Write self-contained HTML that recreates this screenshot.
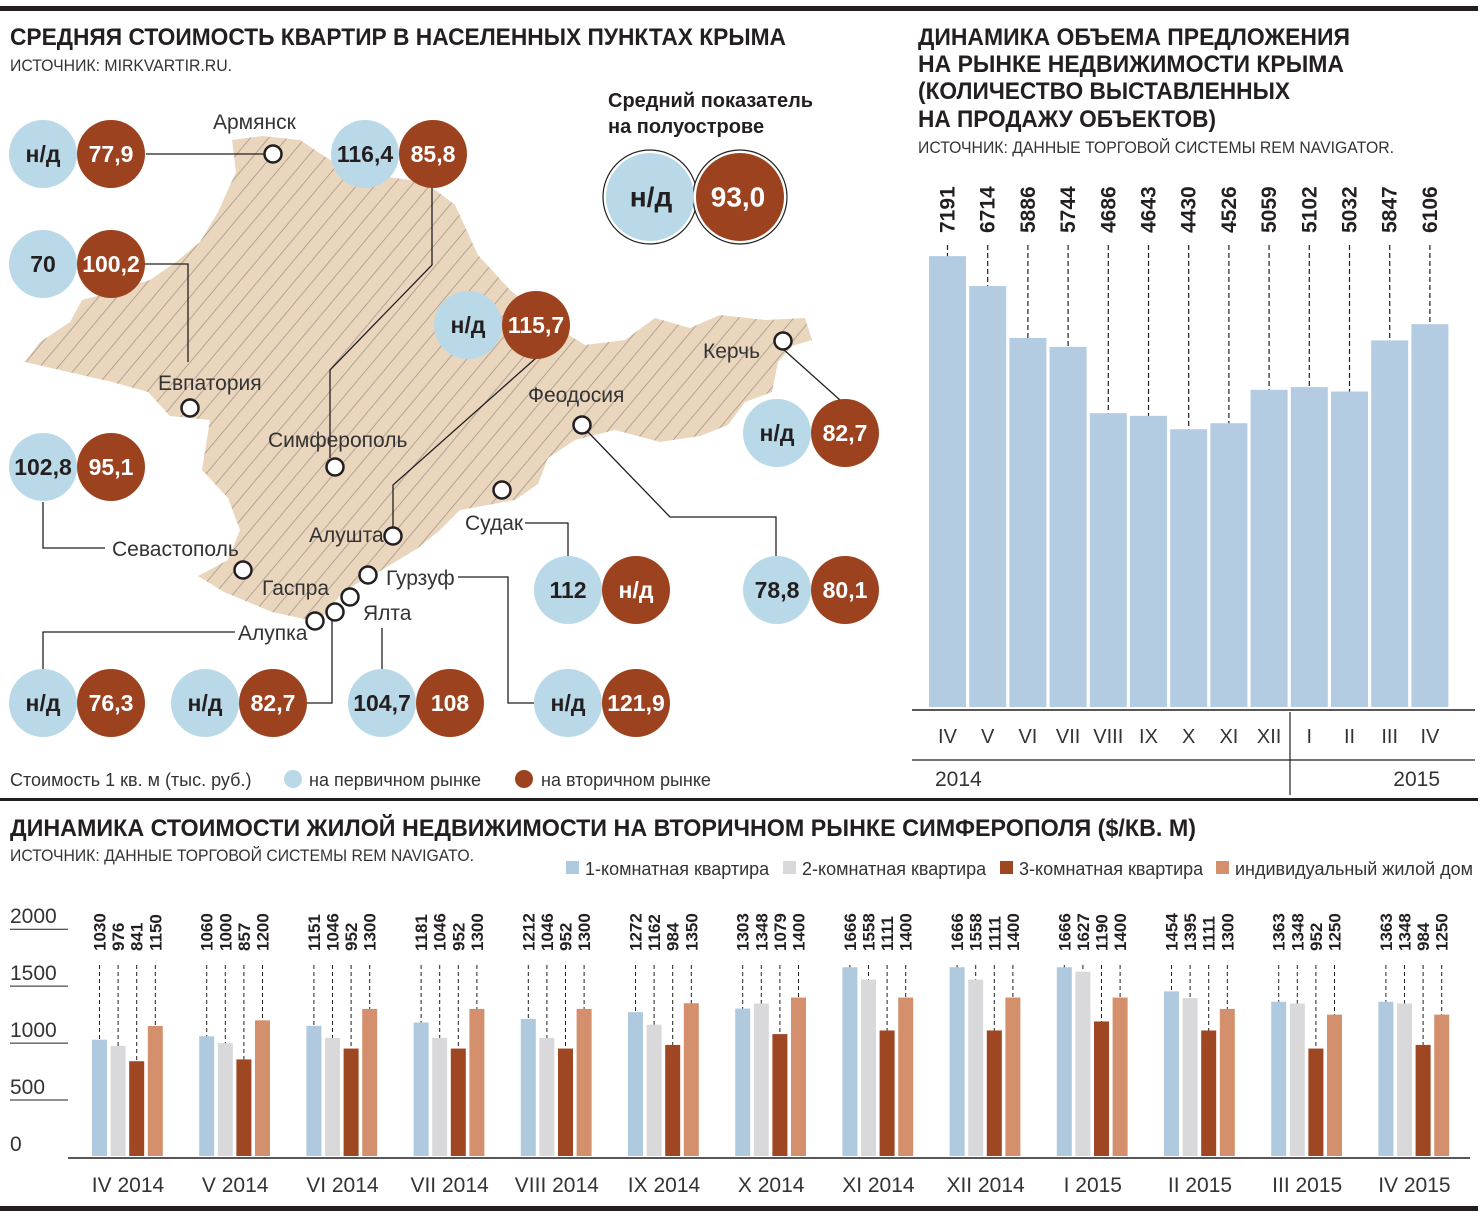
<!DOCTYPE html>
<html><head><meta charset="utf-8"><style>
html,body{margin:0;padding:0;background:#fff}
svg{display:block}
text{font-family:"Liberation Sans Narrow","Liberation Sans",sans-serif}
.t{font-weight:bold;font-size:24px;fill:#231f20}
.s{font-size:17px;fill:#333}
.lbl{font-size:21px;fill:#333}
.cb{font-weight:bold;font-size:23px;text-anchor:middle;dominant-baseline:central}
</style></head><body>
<svg id="root" width="1482" height="1214" viewBox="0 0 1482 1214">
<defs>
<pattern id="hatch" width="14" height="14" patternUnits="userSpaceOnUse" patternTransform="rotate(40)">
<rect width="14" height="14" fill="#ead6bd"/><line x1="0" y1="0" x2="0" y2="14" stroke="#a4978b" stroke-width="1.6"/>
</pattern>
</defs>
<rect x="0" y="6" width="1478" height="5" fill="#231f20"/>
<rect x="0" y="798" width="1478" height="3" fill="#231f20"/>
<rect x="0" y="1206" width="1478" height="5" fill="#231f20"/>

<!-- LEFT: map panel -->
<text x="10" y="45" class="t" textLength="776" lengthAdjust="spacingAndGlyphs">СРЕДНЯЯ СТОИМОСТЬ КВАРТИР В НАСЕЛЕННЫХ ПУНКТАХ КРЫМА</text>
<text x="10" y="71" class="s" textLength="222" lengthAdjust="spacingAndGlyphs">ИСТОЧНИК: MIRKVARTIR.RU.</text>

<polygon fill="url(#hatch)" points="232,140 262,136 300,140 330,160 380,176 425,182 455,205 478,255 510,290 548,322 585,345 625,340 655,318 690,328 720,315 765,320 805,318 812,340 792,346 778,362 772,392 745,402 728,425 700,436 660,442 615,430 575,440 548,458 538,484 515,500 460,510 440,530 418,548 382,570 345,590 318,622 272,612 224,592 198,576 228,560 240,530 228,498 202,470 210,420 170,416 148,392 112,382 25,362 40,342 70,322 82,300 112,292 150,280 176,262 200,242 218,212 236,172"/>

<g stroke="#231f20" stroke-width="1.3" fill="none">
<polyline points="146,154 265,154"/>
<polyline points="432,188 432,265 330,370 330,458"/>
<polyline points="142,264 188,264 188,362"/>
<polyline points="536,358 393,485 393,527"/>
<polyline points="43,502 43,548 105,548"/>
<polyline points="783,349 840,400"/>
<polyline points="525,523 568,523 568,556"/>
<polyline points="588,432 670,517 776,517 776,556"/>
<polyline points="43,669 43,632 235,632"/>
<polyline points="307,703 332,703 332,620"/>
<polyline points="382,669 382,628"/>
<polyline points="534,703 508,703 508,577 458,577"/>
</g>
<g fill="#fff" stroke="#231f20" stroke-width="2.5">
<circle cx="273" cy="154" r="8.5"/>
<circle cx="190" cy="408" r="8.5"/>
<circle cx="335" cy="467" r="8.5"/>
<circle cx="783" cy="341" r="8.5"/>
<circle cx="582" cy="425" r="8.5"/>
<circle cx="502" cy="490" r="8.5"/>
<circle cx="393" cy="536" r="8.5"/>
<circle cx="243" cy="570" r="8.5"/>
<circle cx="368" cy="575" r="8.5"/>
<circle cx="350" cy="597" r="8.5"/>
<circle cx="335" cy="612" r="8.5"/>
<circle cx="315" cy="621" r="8.5"/>
</g>
<g class="lbl">
<text x="213" y="129" class="lbl">Армянск</text>
<text x="158" y="390" class="lbl">Евпатория</text>
<text x="268" y="447" class="lbl">Симферополь</text>
<text x="703" y="358" class="lbl">Керчь</text>
<text x="528" y="402" class="lbl">Феодосия</text>
<text x="465" y="530" class="lbl">Судак</text>
<text x="309" y="542" class="lbl">Алушта</text>
<text x="112" y="556" class="lbl">Севастополь</text>
<text x="386" y="585" class="lbl">Гурзуф</text>
<text x="262" y="595" class="lbl">Гаспра</text>
<text x="363" y="620" class="lbl">Ялта</text>
<text x="238" y="640" class="lbl">Алупка</text>
</g>
<g id="pairs"></g>

<text x="608" y="107" style="font-weight:bold;font-size:20px;fill:#231f20">Средний показатель</text>
<text x="608" y="133" style="font-weight:bold;font-size:20px;fill:#231f20">на полуострове</text>
<g>
<circle cx="650" cy="197" r="47" fill="#fff" stroke="#231f20" stroke-width="1.2"/>
<circle cx="740" cy="197" r="47" fill="#fff" stroke="#231f20" stroke-width="1.2"/>
<circle cx="650" cy="197" r="44" fill="#b9d9e8"/>
<circle cx="740" cy="197" r="44" fill="#9c421f"/>
<text x="651" y="197" class="cb" style="font-size:28px;fill:#231f20">н/д</text>
<text x="738" y="197" class="cb" style="font-size:28px;fill:#fff">93,0</text>
</g>

<g>
<text x="10" y="786" style="font-size:18px;fill:#333">Стоимость 1 кв. м (тыс. руб.)</text>
<circle cx="293" cy="779" r="9" fill="#b9d9e8"/>
<text x="309" y="786" style="font-size:18px;fill:#333">на первичном рынке</text>
<circle cx="524" cy="779" r="9" fill="#9c421f"/>
<text x="541" y="786" style="font-size:18px;fill:#333">на вторичном рынке</text>
</g>

<!-- RIGHT: supply chart -->
<g>
<text x="918" y="45" class="t" textLength="432" lengthAdjust="spacingAndGlyphs">ДИНАМИКА ОБЪЕМА ПРЕДЛОЖЕНИЯ</text>
<text x="918" y="72" class="t" textLength="426" lengthAdjust="spacingAndGlyphs">НА РЫНКЕ НЕДВИЖИМОСТИ КРЫМА</text>
<text x="918" y="99" class="t" textLength="372" lengthAdjust="spacingAndGlyphs">(КОЛИЧЕСТВО ВЫСТАВЛЕННЫХ</text>
<text x="918" y="127" class="t" textLength="298" lengthAdjust="spacingAndGlyphs">НА ПРОДАЖУ ОБЪЕКТОВ)</text>
</g>
<text x="918" y="153" class="s" textLength="476" lengthAdjust="spacingAndGlyphs">ИСТОЧНИК: ДАННЫЕ ТОРГОВОЙ СИСТЕМЫ REM NAVIGATOR.</text>
<g id="supply"></g>
<line x1="912" y1="710" x2="1475" y2="710" stroke="#231f20" stroke-width="1.5"/>
<line x1="912" y1="760" x2="1475" y2="760" stroke="#231f20" stroke-width="1.2"/>
<line x1="1290" y1="712" x2="1290" y2="795" stroke="#231f20" stroke-width="1.2"/>
<text x="935" y="786" style="font-size:21px;fill:#333">2014</text>
<text x="1440" y="786" text-anchor="end" style="font-size:21px;fill:#333">2015</text>

<!-- BOTTOM: price chart -->
<text x="10" y="836" class="t" textLength="1186" lengthAdjust="spacingAndGlyphs">ДИНАМИКА СТОИМОСТИ ЖИЛОЙ НЕДВИЖИМОСТИ НА ВТОРИЧНОМ РЫНКЕ СИМФЕРОПОЛЯ ($/КВ. М)</text>
<text x="10" y="861" class="s" textLength="464" lengthAdjust="spacingAndGlyphs">ИСТОЧНИК: ДАННЫЕ ТОРГОВОЙ СИСТЕМЫ REM NAVIGATO.</text>
<g id="plegend"></g>
<g id="price"></g>
</svg>
<script>
const NS='http://www.w3.org/2000/svg';
function mk(tag,attrs,parent,txt){const e=document.createElementNS(NS,tag);for(const k in attrs)e.setAttribute(k,attrs[k]);if(txt!==undefined)e.textContent=txt;parent.appendChild(e);return e;}

// map circle pairs: [blueX, y, primary, secondary]
const pairPos=[[43,154],[365,154],[43,264],[468,325],[43,467],[777,433],[568,590],[777,590],[43,703],[205,703],[382,703],[568,703]];
const pairPrimary=['н/д','116,4','70','н/д','102,8','н/д','112','78,8','н/д','н/д','104,7','н/д'];
const pairSecondary=['77,9','85,8','100,2','115,7','95,1','82,7','н/д','80,1','76,3','82,7','108','121,9'];
const pg=document.getElementById('pairs');
pairPos.forEach((p,i)=>{
  const g=mk('g',{},pg);
  
  
  mk('circle',{cx:p[0],cy:p[1],r:34,fill:'#b9d9e8'},g);
  mk('circle',{cx:p[0]+68,cy:p[1],r:34,fill:'#9c421f'},g);
  mk('text',{x:p[0],y:p[1],class:'cb',fill:'#231f20'},g,pairPrimary[i]);
  mk('text',{x:p[0]+68,y:p[1],class:'cb',fill:'#fff'},g,pairSecondary[i]);
});

// supply chart
const supplyCats=['IV','V','VI','VII','VIII','IX','X','XI','XII','I','II','III','IV'];
const supplyVals=[7191,6714,5886,5744,4686,4643,4430,4526,5059,5102,5032,5847,6106];
const sg=document.getElementById('supply');
const sx=i=>929+i*40.2, sy=v=>707-v*0.0627;
supplyVals.forEach((v,i)=>{
  const x=sx(i), c=x+18.5;
  const b=mk('rect',{x:x,y:sy(v),width:37,height:707-sy(v),fill:'#b3cce2'},sg);
  
  
  if(sy(v)>246){const l=mk('line',{x1:c,y1:245,x2:c,y2:sy(v),stroke:'#231f20','stroke-width':1.2,'stroke-dasharray':'5,3'},sg);
  
  }
  const t=mk('text',{x:0,y:0,transform:`translate(${c+7},233) rotate(-90)`,style:'font-weight:bold;font-size:21px;fill:#231f20'},sg,String(v));
  
  
  const m=mk('text',{x:c,y:743,'text-anchor':'middle',style:'font-size:20px;fill:#333'},sg,supplyCats[i]);
  
  
});

// price chart
const priceCats=['IV 2014','V 2014','VI 2014','VII 2014','VIII 2014','IX 2014','X 2014','XI 2014','XII 2014','I 2015','II 2015','III 2015','IV 2015'];
const room1=[1030,1060,1151,1181,1212,1272,1303,1666,1666,1666,1454,1363,1363];
const room2=[976,1000,1046,1046,1046,1162,1348,1558,1558,1627,1395,1348,1348];
const room3=[841,857,952,952,952,984,1079,1111,1111,1190,1111,952,984];
const house=[1150,1200,1300,1300,1300,1350,1400,1400,1400,1400,1300,1250,1250];
const yTicks=[0,500,1000,1500,2000];
const seriesNames=['1-комнатная квартира','2-комнатная квартира','3-комнатная квартира','индивидуальный жилой дом'];
const colors=['#afc9df','#d9d9db','#9e4722','#d4906c'];
const pgp=document.getElementById('price');
const py=v=>1157-v*0.1139, gx=g=>92+g*107.2;
yTicks.forEach(v=>{
  const y=py(v);
  if(v>0){const l=mk('line',{x1:10,y1:y,x2:68,y2:y,stroke:'#231f20','stroke-width':1},pgp);
  
  }
  const t=mk('text',{x:10,y:y-6,style:'font-size:21px;fill:#333'},pgp,String(v));
  
  
});
const ax=mk('line',{x1:68,y1:1158,x2:1470,y2:1158,stroke:'#231f20','stroke-width':1.5},pgp);


const series=[room1,room2,room3,house];
priceCats.forEach((cat,g)=>{
  series.forEach((arr,k)=>{
    const v=arr[g], x=gx(g)+k*18.6, c=x+7.5;
    const b=mk('rect',{x:x,y:py(v),width:15,height:1156-py(v),fill:colors[k]},pgp);
    
    
    const l=mk('line',{x1:c,y1:965,x2:c,y2:py(v),stroke:'#231f20','stroke-width':1,'stroke-dasharray':'4,3'},pgp);
    
    
    const t=mk('text',{x:0,y:0,transform:`translate(${c+6},951) rotate(-90)`,style:'font-weight:bold;font-size:17px;fill:#231f20'},pgp,String(v));
    
    
  });
  const t=mk('text',{x:gx(g)+36,y:1192,'text-anchor':'middle',style:'font-size:21px;fill:#333'},pgp,cat);
  
  
});
const lg=document.getElementById('plegend');
const legX=[566,783,1000,1216];
seriesNames.forEach((n,k)=>{
  const r=mk('rect',{x:legX[k],y:861,width:13,height:13,fill:colors[k]},lg);
  
  
  const t=mk('text',{x:legX[k]+19,y:875,style:'font-size:18px;fill:#333'},lg,n);
  
  
});
</script>
</body></html>
